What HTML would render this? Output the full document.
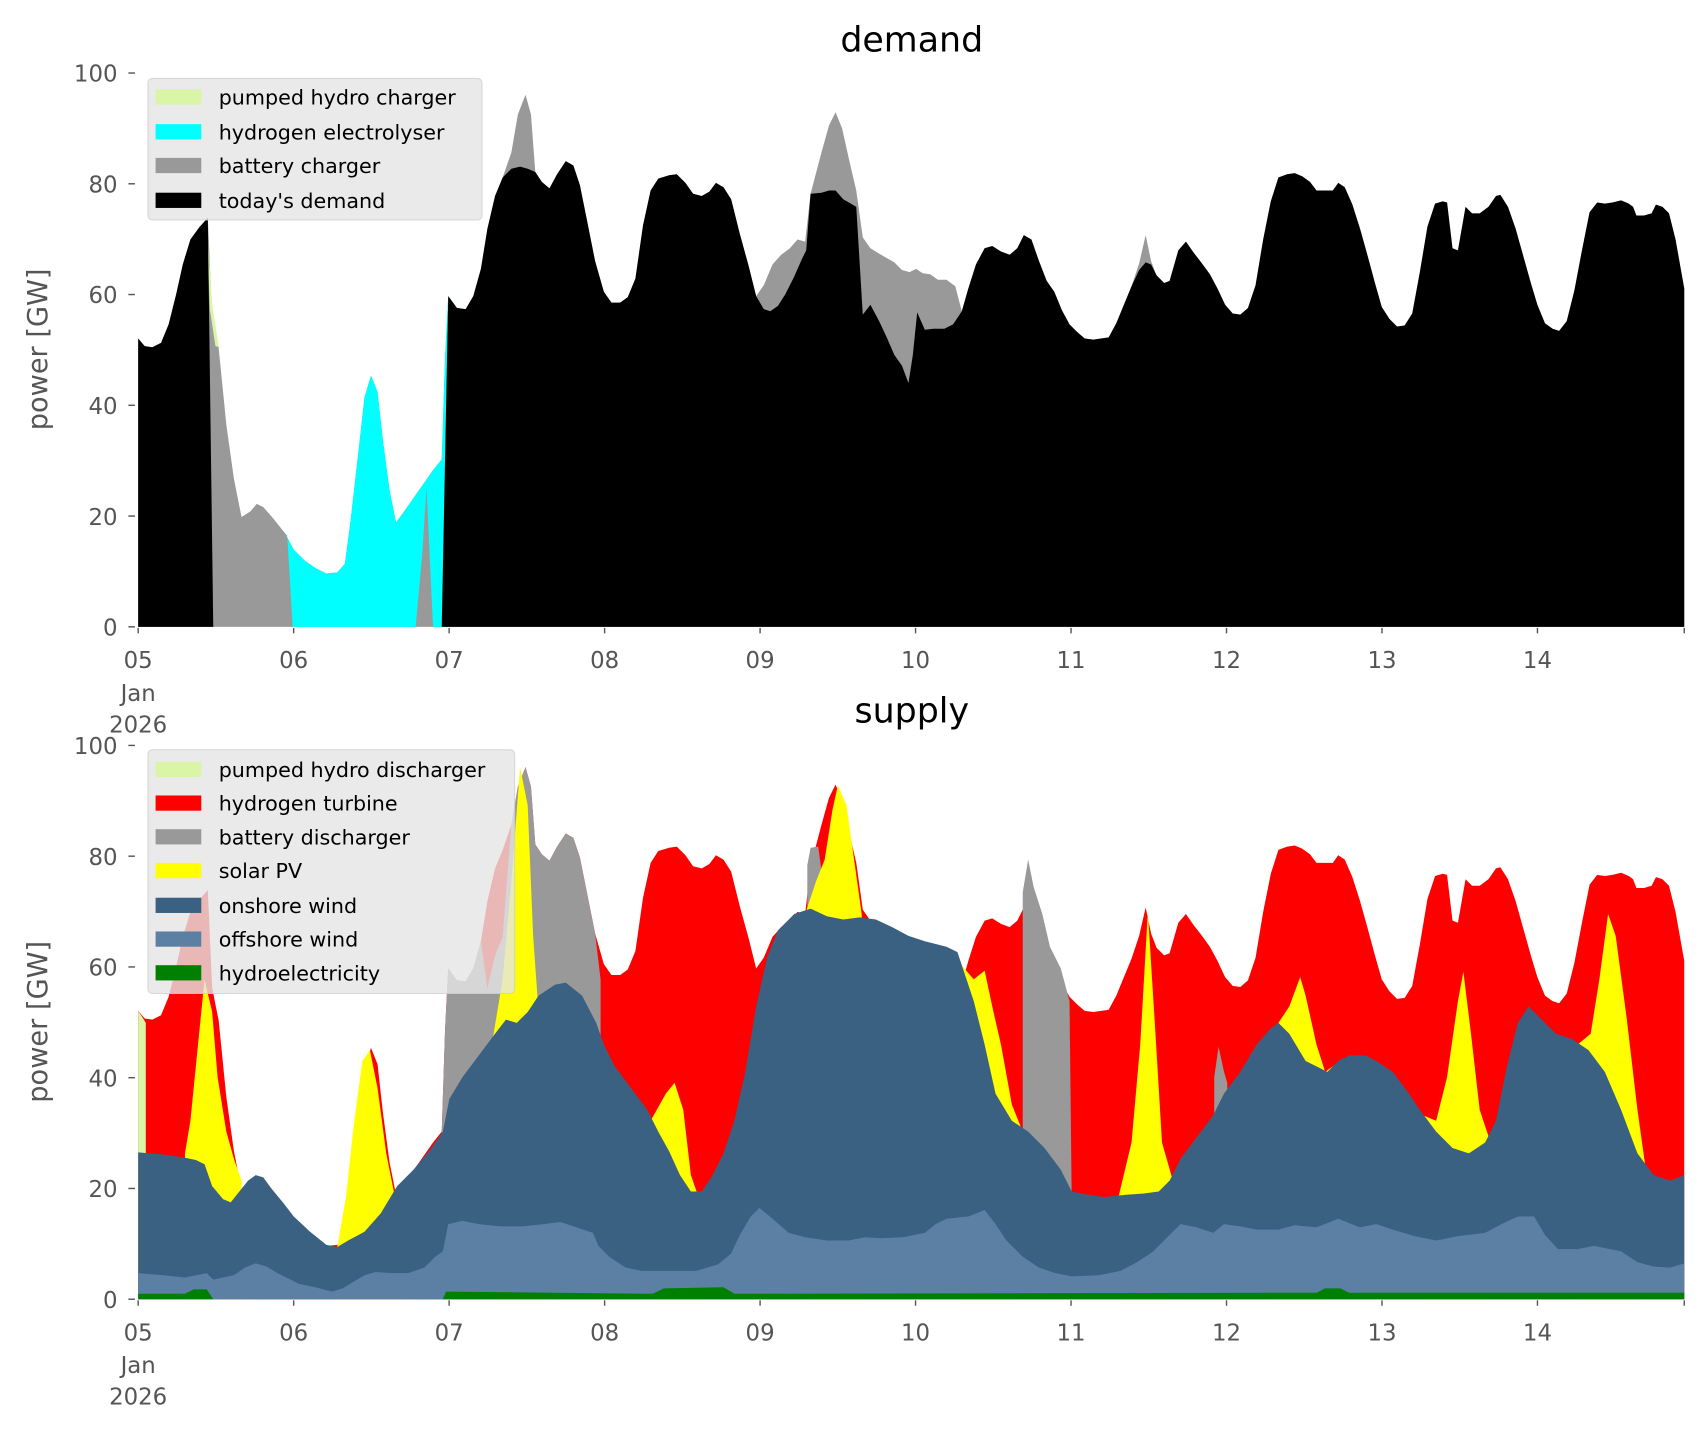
<!DOCTYPE html>
<html><head><meta charset="utf-8"><style>
html,body{margin:0;padding:0;background:#fff;}
svg{display:block;font-family:"DejaVu Sans","Liberation Sans",sans-serif;}
</style></head><body>
<svg id="s" width="1706" height="1431" viewBox="0 0 1568 1315" xmlns="http://www.w3.org/2000/svg">
<g id="top"></g>
<g id="bot"></g>
<g id="axes" fill="#555" font-size="21"></g>
<text x="838" y="47" font-size="32" text-anchor="middle" fill="#000">demand</text>
<text x="838" y="664" font-size="32" text-anchor="middle" fill="#000">supply</text>
<text transform="translate(43,321) rotate(-90)" font-size="25" text-anchor="middle" fill="#555">power [GW]</text>
<text transform="translate(43,939) rotate(-90)" font-size="25" text-anchor="middle" fill="#555">power [GW]</text>
<g font-size="19" fill="#000">
<rect x="136" y="72" width="307" height="130" rx="4" fill="#e5e5e5" fill-opacity="0.8" stroke="#d0d0d0" stroke-opacity="0.8"/>
<rect x="143" y="82" width="42" height="14" fill="#d9f5a5"/><text x="201" y="96">pumped hydro charger</text>
<rect x="143" y="114" width="42" height="14" fill="#00ffff"/><text x="201" y="128">hydrogen electrolyser</text>
<rect x="143" y="145" width="42" height="14" fill="#999"/><text x="201" y="159">battery charger</text>
<rect x="143" y="177" width="42" height="14" fill="#000"/><text x="201" y="191">today's demand</text>
<rect x="136" y="689" width="337" height="224" rx="4" fill="#e5e5e5" fill-opacity="0.8" stroke="#d0d0d0" stroke-opacity="0.8"/>
<rect x="143" y="700" width="42" height="14" fill="#d9f5a5"/><text x="201" y="714">pumped hydro discharger</text>
<rect x="143" y="731" width="42" height="14" fill="#ff0000"/><text x="201" y="745">hydrogen turbine</text>
<rect x="143" y="762" width="42" height="14" fill="#999"/><text x="201" y="776">battery discharger</text>
<rect x="143" y="793" width="42" height="14" fill="#ffff00"/><text x="201" y="807">solar PV</text>
<rect x="143" y="825" width="42" height="14" fill="#3b6182"/><text x="201" y="839">onshore wind</text>
<rect x="143" y="856" width="42" height="14" fill="#5b80a3"/><text x="201" y="870">offshore wind</text>
<rect x="143" y="887" width="42" height="14" fill="#008000"/><text x="201" y="901">hydroelectricity</text>
</g>
</svg>
<script>
function P(s){var a=s.trim().split(/[;\s]+/).map(function(p){return p.split(',').map(Number)});return a;}
var B=P("127,311;133,318;140,319;148,315;155,298;162,270;168,243;175,220;183,209;191,200;196,576;406,576;412,272;420,283;428,284;435,272;442,247;448,210;455,180;462,163;470,155;478,153;485,155;492,158;498,167;505,173;512,160;520,148;527,152;533,170;540,205;547,240;555,268;562,278;570,278;577,273;584,256;591,207;598,175;605,164;615,161;622,160;630,168;637,178;645,180;652,176;658,168;665,172;672,183;680,215;688,244;695,272;702,284;708,286;715,281;722,270;730,254;737,238;741,230;745,178;755,177;762,175;768,175;775,183;782,187;787,190;793,289;800,280;808,295;815,310;822,326;829,336;835,352;839,326;843,287;850,303;858,302;868,302;876,298;884,286;890,265;897,243;905,228;912,226;920,231;928,234;935,228;941,216;948,220;955,240;962,258;969,268;976,285;983,298;990,305;997,311;1005,312;1012,311;1019,310;1026,297;1033,280;1040,263;1047,248;1053,241;1058,243;1063,253;1070,260;1075,258;1083,230;1090,222;1097,232;1104,241;1112,252;1119,265;1126,280;1133,288;1140,289;1147,283;1154,262;1161,220;1168,185;1175,163;1183,160;1190,159;1197,162;1204,167;1210,175;1218,175;1225,175;1230,168;1236,172;1243,188;1250,210;1257,235;1264,261;1270,282;1277,293;1284,300;1291,299;1298,288;1305,250;1312,208;1319,187;1326,185;1330,186;1335,228;1340,230;1347,190;1353,196;1360,196;1368,190;1375,180;1379,179;1386,190;1393,210;1400,235;1407,260;1413,280;1420,297;1427,302;1433,304;1440,295;1447,267;1454,230;1461,195;1468,186;1475,187;1482,186;1490,184;1497,187;1501,190;1504,198;1511,198;1518,196;1522,188;1528,190;1534,196;1540,220;1548,265");
var T=P("127,311;133,318;140,319;148,315;155,298;162,270;168,243;175,220;183,209;191,200;195,290;201,320;208,390;215,440;222,475;230,470;236,463;242,466;250,475;258,485;262,490;270,505;280,515;290,522;300,527;310,526;317,518;322,480;330,410;335,365;341,345;347,360;352,405;358,450;364,480;370,472;377,462;384,452;391,442;398,432;406,422;409,330;411,290;412,272;420,283;428,284;435,272;442,247;448,210;455,180;462,163;470,140;476,105;483,87;488,105;492,158;498,167;505,173;512,160;520,148;527,152;533,170;540,205;547,240;555,268;562,278;570,278;577,273;584,256;591,207;598,175;605,164;615,161;622,160;630,168;637,178;645,180;652,176;658,168;665,172;672,183;680,215;688,244;695,272;702,262;710,243;718,234;726,228;733,220;740,222;745,178;755,140;762,115;768,103;774,118;780,145;787,175;793,218;800,228;808,233;815,237;822,241;829,248;836,250;842,247;848,251;855,252;862,257;870,257;878,263;884,286;890,265;897,243;905,228;912,226;920,231;928,234;935,228;941,216;948,220;955,240;962,258;969,268;976,285;983,298;990,305;997,311;1005,312;1012,311;1019,310;1026,297;1033,280;1040,263;1047,242;1053,216;1058,240;1063,253;1070,260;1075,258;1083,230;1090,222;1097,232;1104,241;1112,252;1119,265;1126,280;1133,288;1140,289;1147,283;1154,262;1161,220;1168,185;1175,163;1183,160;1190,159;1197,162;1204,167;1210,175;1218,175;1225,175;1230,168;1236,172;1243,188;1250,210;1257,235;1264,261;1270,282;1277,293;1284,300;1291,299;1298,288;1305,250;1312,208;1319,187;1326,185;1330,186;1335,228;1340,230;1347,190;1353,196;1360,196;1368,190;1375,180;1379,179;1386,190;1393,210;1400,235;1407,260;1413,280;1420,297;1427,302;1433,304;1440,295;1447,267;1454,230;1461,195;1468,186;1475,187;1482,186;1490,184;1497,187;1501,190;1504,198;1511,198;1518,196;1522,188;1528,190;1534,196;1540,220;1548,265");
var CY=P("262,490;270,505;280,515;290,522;300,527;310,526;317,518;322,480;330,410;335,365;341,345;347,360;352,405;358,450;364,480;370,472;377,462;384,452;391,442;398,432;406,422;409,330;411,290;412,272;412,576;398,576;392,448;388,510;382,576;269,576;264,492");
var PH=P("190,203;195,280;201,318;204,320;198,318;193,285;190,215");
var NS="http://www.w3.org/2000/svg";
function poly(g,pts,fill,base,dy){dy=dy||0;var s=pts.map(function(p){return p[0]+','+(p[1]+dy)}).join(' ');
 if(base!=null){s+=' '+pts[pts.length-1][0]+','+base+' '+pts[0][0]+','+base;}
 var e=document.createElementNS(NS,'polygon');e.setAttribute('points',s);e.setAttribute('fill',fill);document.getElementById(g).appendChild(e);}
poly('top',T,'#999',576);
poly('top',CY,'#00ffff',null);
poly('top',PH,'#d9f5a5',null);
poly('top',B,'#000',576);
var BB=1194;
poly('bot',T,'#ff0000',BB,618);
poly('bot',P("127,990;133,1060;136,1100"),'#999',BB);
poly('bot',P("127,929;131,935;134,940"),'#d9f5a5',BB);
var gseg=T.filter(function(p){return p[0]>=406&&p[0]<=548}).map(function(p){return [p[0],p[1]+618]});
gseg=gseg.map(function(p){ if(p[0]>=448&&p[0]<=466){return [p[0],p[1]+80];} return p;});
poly('bot',[[405,1100]].concat(gseg).concat([[552,900]]),'#999',BB);
poly('bot',P("742,795;745,779;752,778;755,800"),'#999',BB);
poly('bot',P("940,820;945,790;950,815;958,840;965,870;975,890;983,920;985,1100"),'#999',BB);
poly('bot',P("1116,990;1120,962;1125,985;1128,995"),'#999',BB);
var sol=["170,1060;175,1030;182,960;188,900;195,930;200,990;208,1040;215,1065;222,1085",
"310,1146;318,1100;325,1035;333,975;340,965;347,1000;355,1060;363,1100;370,1095",
"452,960;462,900;470,810;478,705;485,740;490,860;495,930;505,925;512,910",
"598,1030;612,1005;620,995;628,1020;635,1080;642,1100;650,1092",
"740,840;750,810;758,790;765,745;770,722;778,740;785,790;792,840",
"882,885;895,900;905,892;912,925;920,960;930,1015;938,1035",
"1028,1100;1040,1050;1048,960;1055,838;1062,950;1068,1050;1078,1085",
"1165,950;1175,940;1185,925;1195,898;1200,915;1210,960;1218,985;1225,980",
"1308,1025;1320,1030;1330,990;1340,920;1345,893;1352,950;1360,1020;1370,1050",
"1450,960;1462,950;1470,900;1478,840;1485,860;1495,935;1505,1020;1512,1070"];
sol.forEach(function(s){poly('bot',P(s),'#ffff00',BB);});
poly('bot',P("127,1059;150,1061;170,1064;180,1066;188,1070;195,1090;205,1102;212,1105;220,1095;228,1085;235,1080;242,1082;250,1093;260,1105;270,1118;285,1132;300,1144;310,1146;320,1140;335,1132;350,1115;365,1090;380,1075;395,1057;407,1040;413,1010;425,990;440,970;455,950;465,937;475,940;485,930;495,915;510,905;520,903;535,915;548,940;555,960;565,980;580,1000;595,1020;605,1040;615,1058;625,1080;635,1095;645,1095;655,1080;665,1060;675,1030;685,985;695,925;705,880;715,855;730,840;745,835;760,842;775,845;790,843;805,845;820,852;835,860;850,865;870,870;880,875;885,890;895,920;905,960;915,1005;930,1030;945,1040;960,1055;975,1075;985,1095;1000,1098;1015,1100;1035,1098;1050,1097;1065,1095;1075,1085;1085,1065;1100,1045;1115,1025;1125,1005;1140,985;1155,960;1168,945;1175,940;1185,950;1200,975;1210,980;1220,985;1230,975;1240,970;1255,970;1265,975;1280,985;1295,1005;1305,1020;1320,1040;1335,1055;1350,1060;1365,1050;1375,1030;1385,980;1395,940;1405,925;1415,935;1430,950;1445,955;1460,965;1475,985;1490,1020;1505,1060;1520,1080;1535,1085;1548,1080"),'#3b6182',BB);
poly('bot',P("127,1170;150,1172;170,1174;185,1171;190,1170;196,1176;205,1174;215,1172;225,1165;235,1161;245,1164;255,1170;265,1175;275,1180;290,1183;305,1187;315,1184;325,1178;335,1172;345,1169;360,1170;375,1170;390,1165;400,1155;407,1150;412,1125;425,1122;440,1125;460,1127;480,1127;500,1125;515,1123;530,1128;545,1133;550,1145;560,1155;575,1165;590,1168;610,1168;640,1168;660,1162;672,1152;680,1135;690,1118;698,1110;710,1120;725,1133;740,1137;760,1140;780,1140;795,1137;810,1138;830,1137;850,1133;860,1125;870,1120;890,1118;905,1112;915,1125;925,1140;940,1155;955,1165;970,1170;985,1173;1010,1172;1030,1168;1045,1160;1060,1150;1075,1135;1085,1125;1100,1128;1115,1133;1125,1125;1140,1127;1155,1130;1175,1130;1190,1126;1210,1128;1230,1120;1250,1128;1265,1125;1280,1130;1300,1136;1320,1140;1340,1136;1365,1133;1380,1125;1395,1118;1410,1118;1420,1135;1432,1148;1450,1148;1465,1145;1490,1150;1505,1160;1520,1164;1535,1165;1548,1161"),'#5b80a3',BB);
poly('bot',P("127,1189;170,1189;178,1185;190,1185;196,1194;407,1194;410,1187;600,1189;610,1184;665,1183;675,1189;1210,1188;1218,1184;1232,1184;1240,1188;1548,1188"),'#008000',BB);
var ax=document.getElementById('axes');
function txt(x,y,s,anc){var e=document.createElementNS(NS,'text');e.setAttribute('x',x);e.setAttribute('y',y);e.setAttribute('text-anchor',anc||'middle');e.textContent=s;ax.appendChild(e);}
function ln(x1,y1,x2,y2){var e=document.createElementNS(NS,'line');e.setAttribute('x1',x1);e.setAttribute('y1',y1);e.setAttribute('x2',x2);e.setAttribute('y2',y2);e.setAttribute('stroke','#555');e.setAttribute('stroke-width','1.3');ax.appendChild(e);}
[[576,67],[1194,685]].forEach(function(a){
 var y0=a[0],y1=a[1];
 for(var i=0;i<=5;i++){var y=y0+(y1-y0)*i/5;ln(118,y,124,y);txt(108,y+8,String(i*20),'end');}
 var lbl=['05','06','07','08','09','10','11','12','13','14'];
 for(var d=0;d<10;d++){var x=127+142.9*d;ln(x,y0+1,x,y0+6);txt(x,y0+38,lbl[d]);}
 ln(1548,y0+1,1548,y0+6);
 txt(127,y0+68,'Jan');txt(127,y0+97,'2026');
});
</script>
</body></html>
